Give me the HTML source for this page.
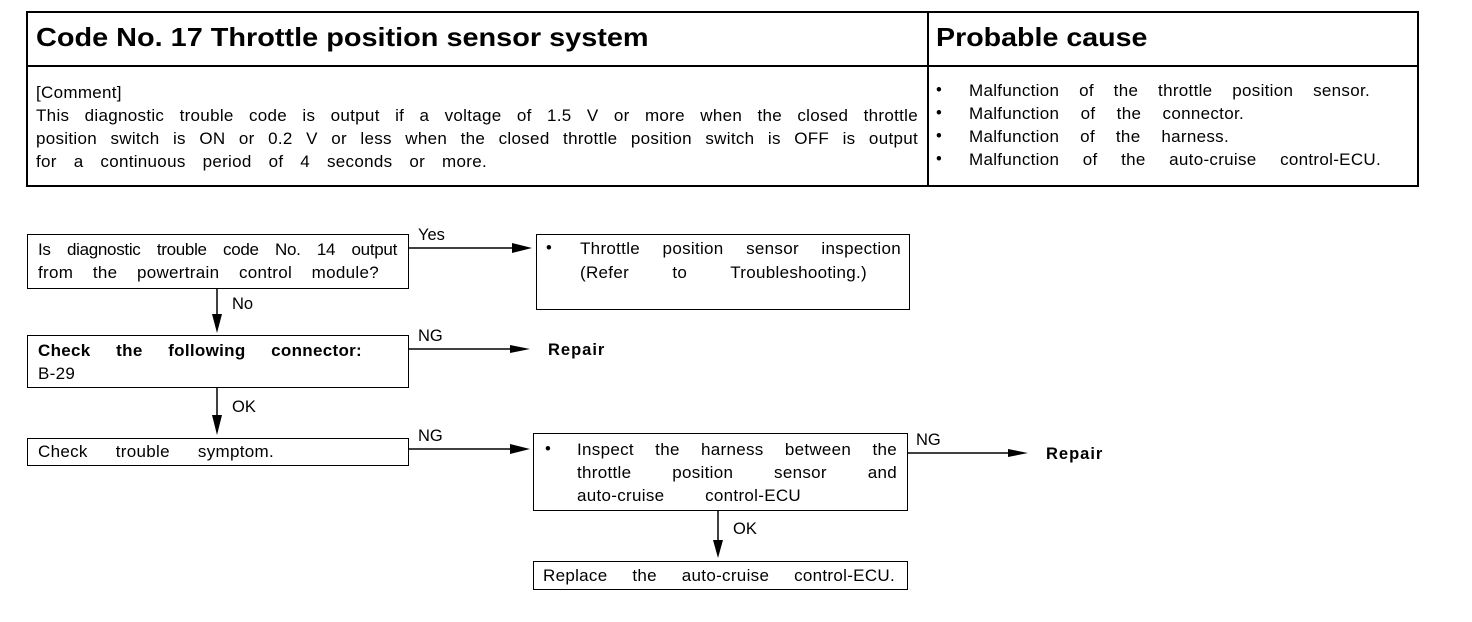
<!DOCTYPE html>
<html><head><style>
body{margin:0;background:#fff;width:1472px;height:622px;position:relative;font-family:"Liberation Sans",Arial,sans-serif;color:#000;overflow:hidden}
.a{position:absolute}
.b{position:absolute;border:1.5px solid #000;box-sizing:border-box}
.t{font-size:16.5px;line-height:23px;white-space:nowrap}
.j{position:absolute;font-size:17px;line-height:23px;white-space:nowrap;text-align:justify;text-align-last:justify;letter-spacing:0.3px}
</style></head><body>
<div class="b" style="left:26px;top:11px;width:1393px;height:176px;border-width:2px"></div>
<div class="a" style="left:26px;top:65px;width:1393px;height:2px;background:#000"></div>
<div class="a" style="left:927px;top:11px;width:2px;height:176px;background:#000"></div>
<div class="a" style="left:36px;top:22px;font-size:26px;font-weight:bold;transform:scaleX(1.11);transform-origin:left">Code No. 17 Throttle position sensor system</div>
<div class="a" style="left:936px;top:22px;font-size:26px;font-weight:bold;transform:scaleX(1.1);transform-origin:left">Probable cause</div>
<div class="j" style="left:36px;top:81px;width:102px">[Comment]</div>
<div class="j" style="left:36px;top:104px;width:882px">This diagnostic trouble code is output if a voltage of 1.5 V or more when the closed throttle</div>
<div class="j" style="left:36px;top:127px;width:882px">position switch is ON or 0.2 V or less when the closed throttle position switch is OFF is output</div>
<div class="j" style="left:36px;top:150px;width:451px">for a continuous period of 4 seconds or more.</div>
<div class="a t" style="left:936px;top:79px;line-height:23px">•<br>•<br>•<br>•</div>
<div class="j" style="left:969px;top:79px;width:401px">Malfunction of the throttle position sensor.</div>
<div class="j" style="left:969px;top:102px;width:275px">Malfunction of the connector.</div>
<div class="j" style="left:969px;top:125px;width:260px">Malfunction of the harness.</div>
<div class="j" style="left:969px;top:148px;width:412px">Malfunction of the auto-cruise control-ECU.</div>

<div class="b" style="left:27px;top:234px;width:382px;height:55px"></div>
<div class="j" style="left:38px;top:238px;width:359px;letter-spacing:-0.3px">Is diagnostic trouble code No. 14 output</div>
<div class="j" style="left:38px;top:261px;width:341px">from the powertrain control module?</div>
<div class="b" style="left:536px;top:234px;width:374px;height:76px"></div>
<div class="a t" style="left:546px;top:237px">•</div>
<div class="j" style="left:580px;top:237px;width:321px">Throttle position sensor inspection</div>
<div class="j" style="left:580px;top:261px;width:287px">(Refer to Troubleshooting.)</div>
<div class="b" style="left:27px;top:335px;width:382px;height:53px"></div>
<div class="j" style="left:38px;top:339px;width:324px;font-weight:bold">Check the following connector:</div>
<div class="j" style="left:38px;top:362px;width:32px">B-29</div>
<div class="b" style="left:27px;top:438px;width:382px;height:28px"></div>
<div class="j" style="left:38px;top:440px;width:236px">Check trouble symptom.</div>
<div class="b" style="left:533px;top:433px;width:375px;height:78px"></div>
<div class="a t" style="left:545px;top:438px">•</div>
<div class="j" style="left:577px;top:438px;width:320px">Inspect the harness between the</div>
<div class="j" style="left:577px;top:461px;width:320px">throttle position sensor and</div>
<div class="j" style="left:577px;top:484px;width:224px">auto-cruise control-ECU</div>
<div class="b" style="left:533px;top:561px;width:375px;height:29px"></div>
<div class="j" style="left:543px;top:564px;width:352px">Replace the auto-cruise control-ECU.</div>

<div class="a t" style="left:418px;top:224px">Yes</div>
<div class="a t" style="left:232px;top:293px">No</div>
<div class="a t" style="left:418px;top:325px">NG</div>
<div class="a t" style="left:548px;top:339px;font-weight:bold;letter-spacing:1px">Repair</div>
<div class="a t" style="left:232px;top:396px">OK</div>
<div class="a t" style="left:418px;top:425px">NG</div>
<div class="a t" style="left:916px;top:429px">NG</div>
<div class="a t" style="left:1046px;top:443px;font-weight:bold;letter-spacing:1px">Repair</div>
<div class="a t" style="left:733px;top:518px">OK</div>

<svg class="a" style="left:0;top:0" width="1472" height="622">
<g stroke="#000" stroke-width="1.5" fill="none">
<line x1="409" y1="248" x2="520" y2="248"/>
<line x1="409" y1="349" x2="515" y2="349"/>
<line x1="409" y1="449" x2="518" y2="449"/>
<line x1="908" y1="453" x2="1015" y2="453"/>
<line x1="217" y1="289" x2="217" y2="318"/>
<line x1="217" y1="388" x2="217" y2="420"/>
<line x1="718" y1="511" x2="718" y2="545"/>
</g>
<g fill="#000">
<polygon points="512,243 532,248 512,253"/>
<polygon points="510,345 530,349 510,353"/>
<polygon points="510,444 530,449 510,454"/>
<polygon points="1008,449 1028,453 1008,457"/>
<polygon points="212,314 222,314 217,333"/>
<polygon points="212,415 222,415 217,435"/>
<polygon points="713,540 723,540 718,558"/>
</g>
</svg>
</body></html>
